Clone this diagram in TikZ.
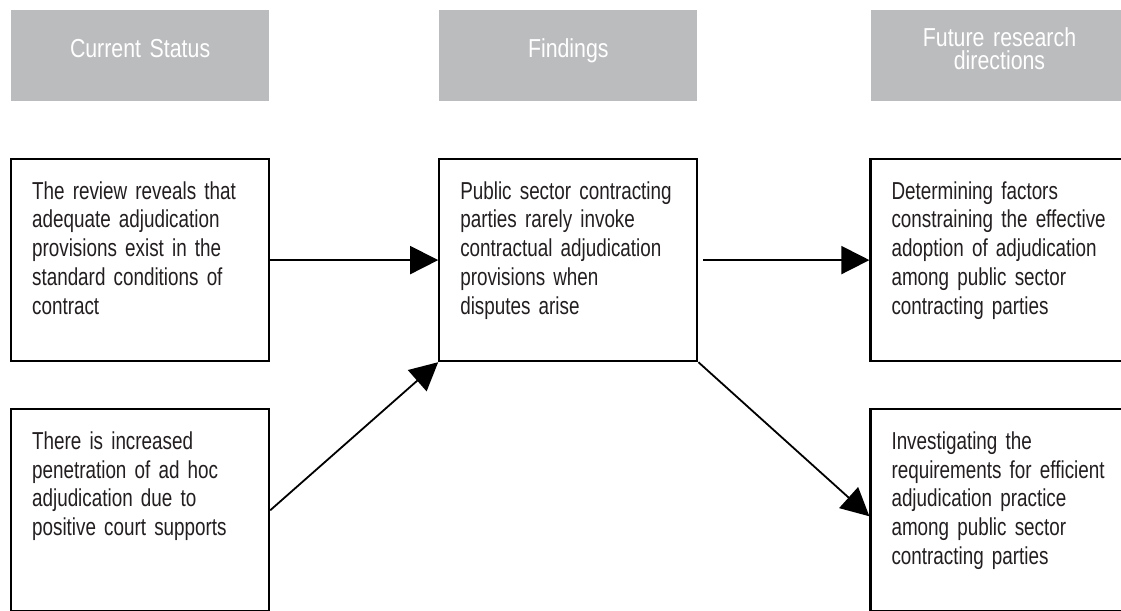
\documentclass[tikz,border=0pt]{standalone}
\usepackage{fontspec}
\setmainfont{Liberation Sans}[FakeStretch=0.77]
\newfontfamily\headfont{Liberation Sans}[FakeStretch=0.82]
\usepackage{tikz}
\usetikzlibrary{arrows.meta, positioning}
\definecolor{headgray}{HTML}{BBBCBE}
\definecolor{bodytext}{HTML}{231F20}

\begin{document}
\begin{tikzpicture}[
    x=1pt, y=1pt,
    node distance=46pt and 168pt,
    box/.style={rectangle, draw, line width=2.2pt, text=bodytext, text width=216pt, inner xsep=21pt, inner ysep=0pt, align=left, text height=40pt, text depth=162pt, font=\fontsize{24.5}{28.8}\selectfont},
    head/.style={rectangle, fill=headgray, text=white, text width=258pt, inner sep=0pt, align=center, text height=48pt, text depth=43pt, font=\headfont\fontsize{26}{23}\selectfont},
    arrow/.style={-{Triangle[length=28pt, width=28pt]}, line width=1.8pt}
]
\clip (0,0) rectangle (1121,610);
\fill[white] (0,0) rectangle (1121,610);

% Boxes
\node[box, anchor=north west] (review) at (10,452) {The review reveals that\\adequate adjudication\\provisions exist in the\\standard conditions of\\contract};
\node[box, right=of review] (findings) {Public sector contracting\\parties rarely invoke\\contractual adjudication\\provisions when\\disputes arise};
\node[box, right=171pt of findings] (factors) {Determining factors\\constraining the effective\\adoption of adjudication\\among public sector\\contracting parties};
\node[box, below=of review] (adhoc) {There is increased\\penetration of ad hoc\\adjudication due to\\positive court supports};
\node[box, below=of factors] (require) {Investigating the\\requirements for efficient\\adjudication practice\\among public sector\\contracting parties};

% Column headers
\node[head, above=57pt of review] (status) {Current Status};
\node[head, above=57pt of findings] (find) {Findings};
\node[head, above=57pt of factors, text height=37pt, text depth=54pt] (future) {Future research\\directions};

% Arrows
\draw[arrow] (review) -- (findings);
\draw[arrow] (adhoc.east) -- (findings.south west);
\draw[arrow] ([xshift=5pt]findings.east) -- (factors);
\draw[arrow] (findings.south east) -- ([yshift=-6pt]require.west);
\end{tikzpicture}
\end{document}
